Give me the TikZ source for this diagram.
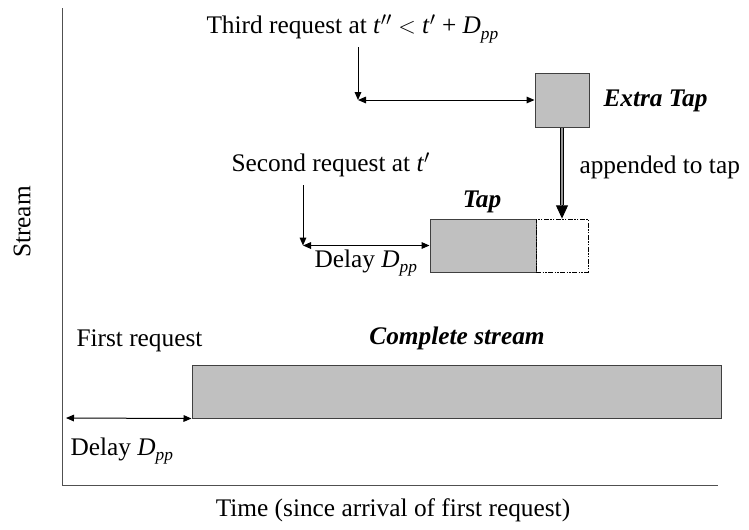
\documentclass[tikz,border=0pt]{standalone}
\usepackage{fontspec}
\setmainfont{Liberation Serif}
\usetikzlibrary{arrows.meta}

\newcommand{\Dpp}{\textit{D}\raisebox{-0.5ex}{\fontsize{13}{13}\selectfont\textit{pp}}}

\tikzset{every picture/.style={line width=0.75pt}}
\tikzset{
  lbl/.style={inner sep=0.75pt, font=\fontsize{19}{22}\selectfont},
  title/.style={lbl, font=\fontsize{19}{22}\selectfont\bfseries\itshape},
  greybox/.style={draw={rgb, 255:red, 64; green, 64; blue, 64}, fill={rgb, 255:red, 192; green, 192; blue, 192}, inner sep=0pt},
  ghostbox/.style={draw=black, line width=0.6pt, dash pattern=on 4pt off 1pt on 1pt off 1pt on 1pt off 1pt, inner sep=0pt},
  onearrow/.style={-{Triangle[length=6pt,width=5pt]}},
  dblarrow/.style={{Triangle[length=6pt,width=5pt]}-{Triangle[length=6pt,width=5pt]}},
  dblshaft/.style={double={rgb, 255:red, 150; green, 150; blue, 150}, double distance=1.5pt, line width=0.6pt}
}

\begin{document}
\begin{tikzpicture}[x=0.75pt,y=0.75pt,yscale=-1,xscale=1]
\useasboundingbox (0,0) rectangle (749,529);

%Shape: Axis 2D
\draw [color={rgb, 255:red, 80; green, 80; blue, 80 }] (62,8) -- (62,485) -- (718,485) ;

%Shape: Rectangle [complete stream]
\node [greybox, minimum width=396.75pt, minimum height=39.75pt] (complete) at (456.5,391.5) {};
%Shape: Rectangle [tap]
\node [greybox, minimum width=79.5pt, minimum height=39.75pt] (tap) at (483,245.5) {};
%Shape: Rectangle [appended part]
\node [ghostbox, minimum width=39pt, minimum height=39.75pt] (ghost) at (562,245.5) {};
%Shape: Rectangle [extra tap]
\node [greybox, minimum width=40.5pt, minimum height=40.5pt] (extra) at (562,100) {};

%Straight Lines [first request]
\coordinate (start1) at (66,418) ;
\draw [dblarrow] (start1) -- (complete.south west) ;
%Straight Lines [second request]
\coordinate (top2) at (303,185) ;
\coordinate (bend2) at (303,245.5) ;
\draw [onearrow] (top2) -- (bend2) ;
\draw [dblarrow] (bend2) -- (tap.west) ;
%Straight Lines [third request]
\coordinate (top3) at (358,47) ;
\coordinate (bend3) at (358,100) ;
\draw [onearrow] (top3) -- (bend3) ;
\draw [dblarrow] (bend3) -- (extra.west) ;
%Straight Lines [appended to tap]
\coordinate (tip4) at (562,205) ;
\draw [dblshaft] (extra.south) -- (tip4) ;
\draw [-{Triangle[length=10pt,width=9pt]}] (tip4) -- (ghost.north) ;

% Text Node
\node [lbl, anchor=west] (third) at (205,29) {Third request at \textit{t}$''$ $<$ \textit{t}$'$ + \Dpp};
% Text Node
\node [lbl, anchor=west] (second) at (230,165) {Second request at \textit{t}$'$};
% Text Node
\node [lbl, anchor=west] (delaytwo) at (313,263) {Delay \Dpp};
% Text Node
\node [lbl, anchor=west] (first) at (75,341) {First request};
% Text Node
\node [lbl, anchor=west] (delayone) at (69,451) {Delay \Dpp};
% Text Node
\node [title] (completelbl) at (457,338) {Complete stream};
% Text Node
\node [title] (taplbl) at (482,202) {Tap};
% Text Node
\node [title, anchor=west] (extralbl) at (602,101) {Extra Tap};
% Text Node
\node [lbl, anchor=west] (appended) at (578,167) {appended to tap};
% Text Node
\node [lbl, rotate=90] (ylabel) at (22,222) {Stream};
% Text Node
\node [lbl] (xlabel) at (393,510) {Time (since arrival of first request)};

\end{tikzpicture}
\end{document}
